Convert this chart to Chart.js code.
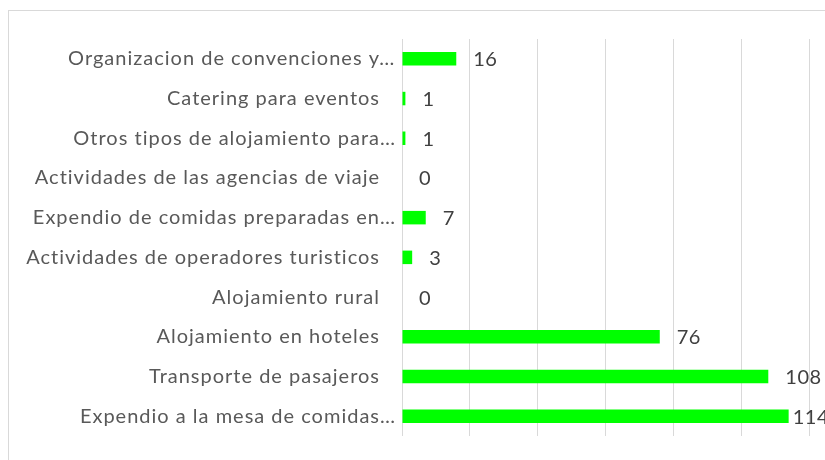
<!DOCTYPE html>
<html>
<head>
<meta charset="utf-8">
<script src="https://cdn.jsdelivr.net/npm/chart.js@4"></script>
<style>
  html, body { margin: 0; padding: 0; background: #fff; overflow: hidden; }
  #box {
    position: absolute; left: 8px; top: 10px;
    width: 840px; height: 470px;
    border: 1px solid #d9d9d9; background: #fff;
  }
  #wrap { position: absolute; left: 0; top: 0; width: 816px; height: 449px; }
</style>
</head>
<body>
<div id="box">
  <div id="wrap"><canvas id="chart"></canvas></div>
</div>
<script>
// Categories top to bottom, as in the picture
var categories = [
  'Organizacion de convenciones y\u2026',
  'Catering para eventos',
  'Otros tipos de alojamiento para\u2026',
  'Actividades de las agencias de viaje',
  'Expendio de comidas preparadas en\u2026',
  'Actividades de operadores turisticos',
  'Alojamiento rural',
  'Alojamiento en hoteles',
  'Transporte de pasajeros',
  'Expendio a la mesa de comidas\u2026'
];
var values = [16, 1, 1, 0, 7, 3, 0, 76, 108, 114];
var xTicks = [0, 20, 40, 60, 80, 100, 120];

var FONT = 'Lato, sans-serif';
var LABEL_SIZE = 20;

// category labels: body right-aligned, the ellipsis hangs past it like in Excel
var categoryLabels = {
  id: 'categoryLabels',
  afterDraw: function(chart) {
    var ctx = chart.ctx;
    var yScale = chart.scales.y;
    var right = chart.chartArea.left - 22;
    ctx.save();
    ctx.font = LABEL_SIZE + 'px ' + FONT;
    ctx.letterSpacing = '1px';
    ctx.fillStyle = '#595959';
    ctx.textBaseline = 'middle';
    ctx.textAlign = 'left';
    categories.forEach(function(label, i) {
      var y = yScale.getPixelForTick(i);
      var body = label.replace(/\u2026$/, '');
      ctx.fillText(label, right - ctx.measureText(body).width, y);
    });
    ctx.restore();
  }
};

// draws the value to the right of each bar, pulled in when it would run off
var valueLabels = {
  id: 'valueLabels',
  afterDatasetsDraw: function(chart) {
    var ctx = chart.ctx;
    var meta = chart.getDatasetMeta(0);
    var limit = chart.chartArea.right + 20;
    ctx.save();
    ctx.font = LABEL_SIZE + 'px ' + FONT;
    ctx.letterSpacing = '0.5px';
    ctx.fillStyle = '#404040';
    ctx.textAlign = 'left';
    ctx.textBaseline = 'middle';
    meta.data.forEach(function(bar, i) {
      var text = String(values[i]);
      var w = ctx.measureText(text).width;
      var x = Math.min(bar.x + 17, limit - w);
      ctx.fillText(text, x, bar.y + 1);
    });
    ctx.restore();
  }
};

var ctx = document.getElementById('chart').getContext('2d');
new Chart(ctx, {
  type: 'bar',
  data: {
    labels: categories,
    datasets: [{
      data: values,
      backgroundColor: '#00ff00',
      borderWidth: 0,
      categoryPercentage: 1,
      barPercentage: 0.34
    }]
  },
  options: {
    indexAxis: 'y',
    responsive: true,
    maintainAspectRatio: false,
    animation: false,
    layout: { padding: { top: 28, right: 16, bottom: 24, left: 0 } },
    plugins: {
      legend: { display: false },
      tooltip: { enabled: false }
    },
    scales: {
      x: {
        min: xTicks[0],
        max: xTicks[xTicks.length - 1],
        afterBuildTicks: function(scale) {
          scale.ticks = xTicks.map(function(v) { return { value: v }; });
        },
        ticks: { display: false },
        border: { display: false },
        grid: { color: '#d9d9d9', lineWidth: 1, drawTicks: false }
      },
      y: {
        afterFit: function(scale) { scale.width = 393; },
        grid: { display: false, drawTicks: false },
        border: { display: false },
        ticks: { display: false }
      }
    }
  },
  plugins: [categoryLabels, valueLabels]
});
</script>
</body>
</html>
